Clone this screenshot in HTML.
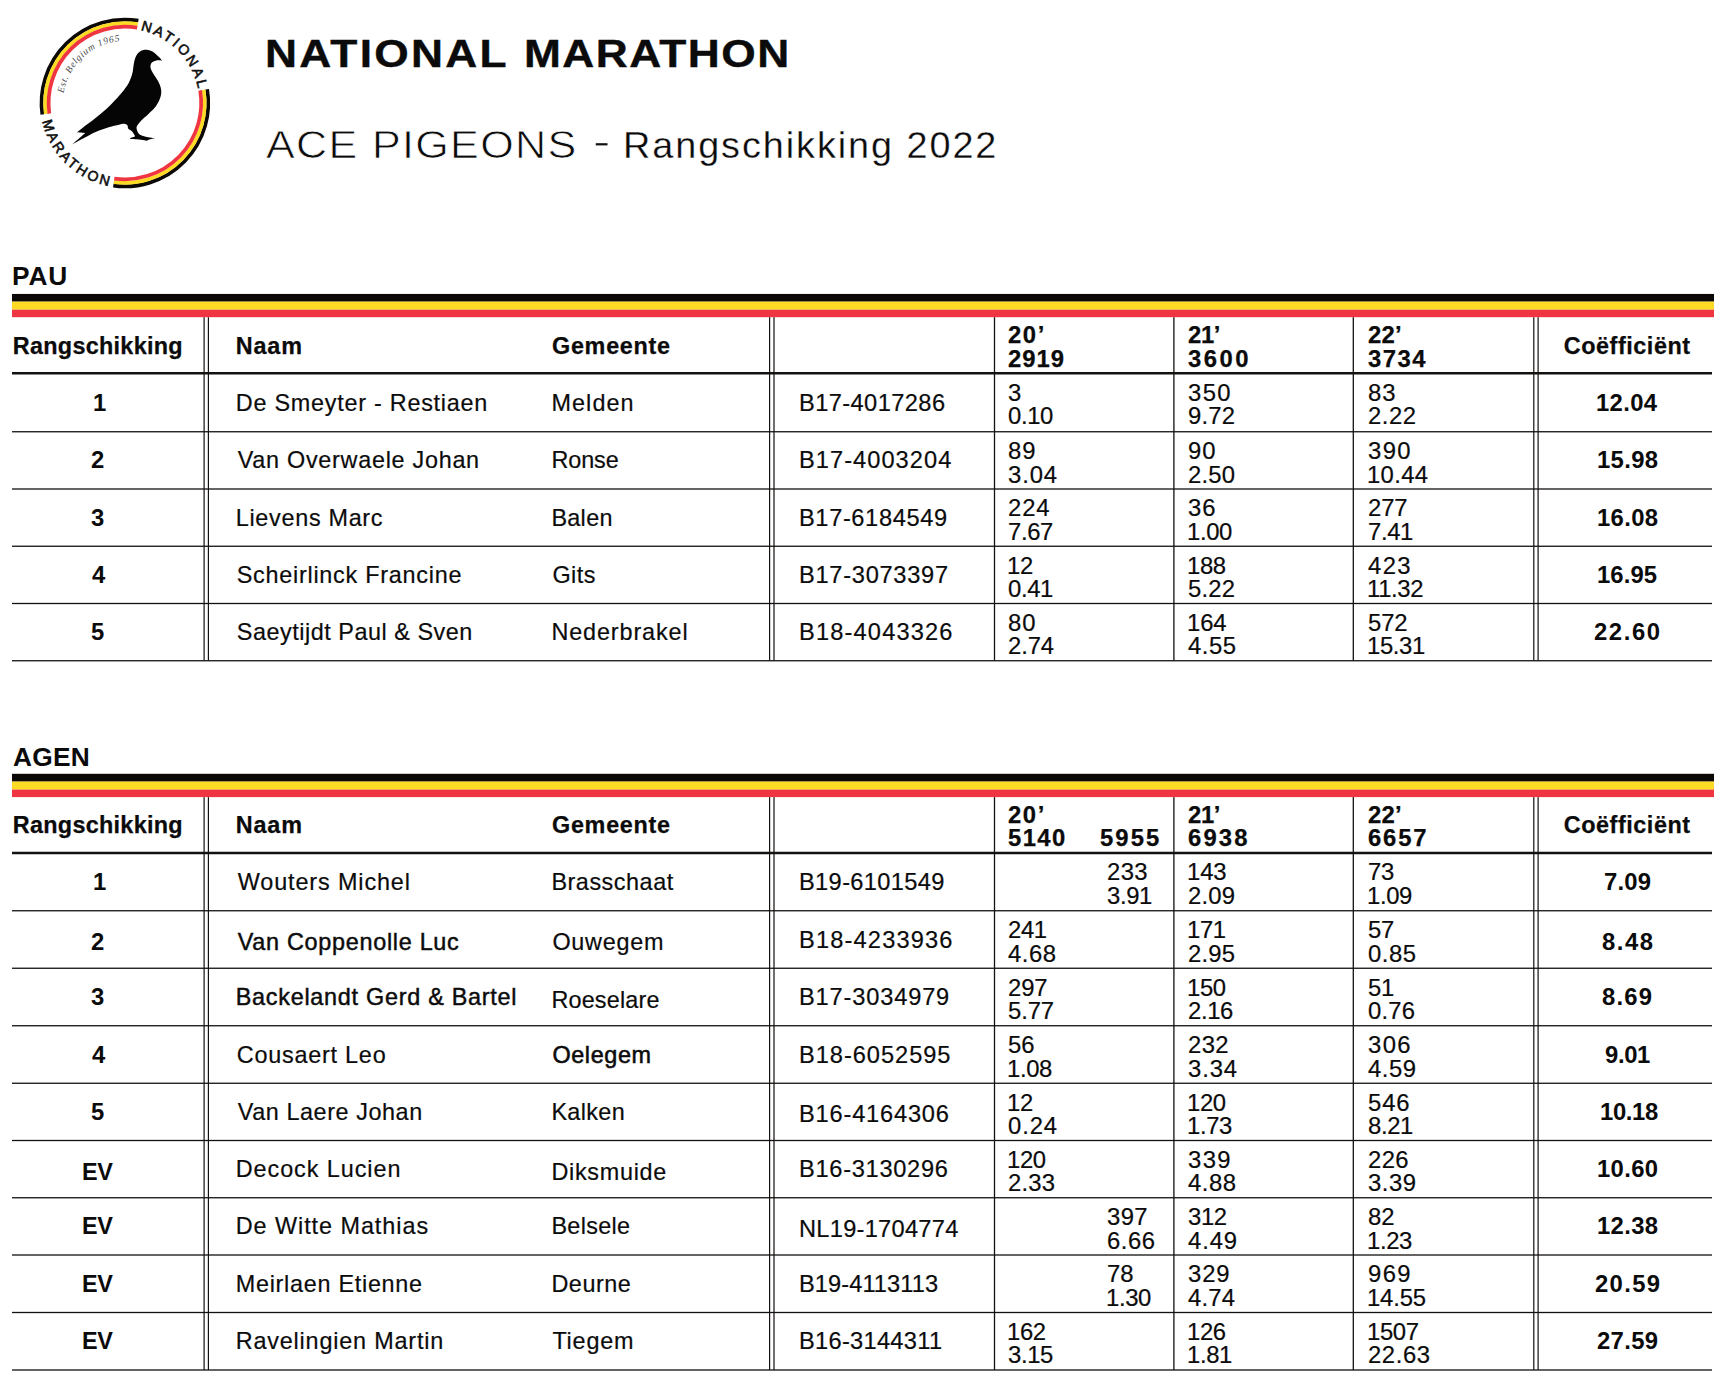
<!DOCTYPE html>
<html lang="nl"><head><meta charset="utf-8"><title>National Marathon - ACE PIGEONS - Rangschikking 2022</title>
<style>
html,body{margin:0;padding:0;background:#fff;}
body{width:1720px;height:1384px;position:relative;overflow:hidden;font-family:"Liberation Sans",sans-serif;color:#0b0b0b;}
#gfx{position:absolute;left:0;top:0;width:1720px;height:1384px;}
.t{position:absolute;white-space:pre;font-size:23.4px;line-height:30px;transform-origin:0 0;-webkit-text-stroke:0.2px #0b0b0b;}
.b{font-weight:700;-webkit-text-stroke:0;}
</style></head><body>
<svg id="gfx" width="1720" height="1384" viewBox="0 0 1720 1384">
<rect x="12.0" y="293.95" width="1702.0" height="7.7" fill="#0c0806"/>
<rect x="12.0" y="301.65" width="1702.0" height="8.05" fill="#fdda24"/>
<rect x="12.0" y="309.7" width="1702.0" height="7.5" fill="#ee3541"/>
<rect x="203.5" y="317.2" width="1.2" height="343.55" fill="#141210"/>
<rect x="207.8" y="317.2" width="1.2" height="343.55" fill="#141210"/>
<rect x="769" y="317.2" width="1.2" height="343.55" fill="#141210"/>
<rect x="773.4" y="317.2" width="1.2" height="343.55" fill="#141210"/>
<rect x="1533.2" y="317.2" width="1.2" height="343.55" fill="#141210"/>
<rect x="1537.5" y="317.2" width="1.2" height="343.55" fill="#141210"/>
<rect x="993.85" y="317.2" width="1.3" height="343.55" fill="#141210"/>
<rect x="1173.25" y="317.2" width="1.3" height="343.55" fill="#141210"/>
<rect x="1352.65" y="317.2" width="1.3" height="343.55" fill="#141210"/>
<rect x="12.0" y="372" width="1700.0" height="2.5" fill="#141210"/>
<rect x="12.0" y="431.1" width="1700.0" height="1.3" fill="#141210"/>
<rect x="12.0" y="488.35" width="1700.0" height="1.3" fill="#141210"/>
<rect x="12.0" y="545.6" width="1700.0" height="1.3" fill="#141210"/>
<rect x="12.0" y="602.85" width="1700.0" height="1.3" fill="#141210"/>
<rect x="12.0" y="660.1" width="1700.0" height="1.3" fill="#141210"/>
<rect x="12.0" y="773.8" width="1702.0" height="7.8" fill="#0c0806"/>
<rect x="12.0" y="781.6" width="1702.0" height="8" fill="#fdda24"/>
<rect x="12.0" y="789.6" width="1702.0" height="7.5" fill="#ee3541"/>
<rect x="203.5" y="797.1" width="1.2" height="572.9" fill="#141210"/>
<rect x="207.8" y="797.1" width="1.2" height="572.9" fill="#141210"/>
<rect x="769" y="797.1" width="1.2" height="572.9" fill="#141210"/>
<rect x="773.4" y="797.1" width="1.2" height="572.9" fill="#141210"/>
<rect x="1533.2" y="797.1" width="1.2" height="572.9" fill="#141210"/>
<rect x="1537.5" y="797.1" width="1.2" height="572.9" fill="#141210"/>
<rect x="993.85" y="797.1" width="1.3" height="572.9" fill="#141210"/>
<rect x="1173.25" y="797.1" width="1.3" height="572.9" fill="#141210"/>
<rect x="1352.65" y="797.1" width="1.3" height="572.9" fill="#141210"/>
<rect x="12.0" y="851.75" width="1700.0" height="2.5" fill="#141210"/>
<rect x="12.0" y="910.1" width="1700.0" height="1.3" fill="#141210"/>
<rect x="12.0" y="967.6" width="1700.0" height="1.3" fill="#141210"/>
<rect x="12.0" y="1025.1" width="1700.0" height="1.3" fill="#141210"/>
<rect x="12.0" y="1082.6" width="1700.0" height="1.3" fill="#141210"/>
<rect x="12.0" y="1139.85" width="1700.0" height="1.3" fill="#141210"/>
<rect x="12.0" y="1197.1" width="1700.0" height="1.3" fill="#141210"/>
<rect x="12.0" y="1254.35" width="1700.0" height="1.3" fill="#141210"/>
<rect x="12.0" y="1311.85" width="1700.0" height="1.3" fill="#141210"/>
<rect x="12.0" y="1369.35" width="1700.0" height="1.3" fill="#141210"/>
<path d="M42.31 114.61A83.4 83.4 0 0 1 138.38 20.7" fill="none" stroke="#0c0806" stroke-width="3.7"/>
<path d="M45.83 114.11A79.85 79.85 0 0 1 137.8 24.2" fill="none" stroke="#fdda24" stroke-width="3.7"/>
<path d="M49.34 113.62A76.3 76.3 0 0 1 137.23 27.7" fill="none" stroke="#ee3541" stroke-width="3.7"/>
<path d="M207.16 89.24A83.4 83.4 0 0 1 113.29 185.59" fill="none" stroke="#0c0806" stroke-width="3.7"/>
<path d="M203.65 89.82A79.85 79.85 0 0 1 113.79 182.07" fill="none" stroke="#fdda24" stroke-width="3.7"/>
<path d="M200.15 90.41A76.3 76.3 0 0 1 114.28 178.56" fill="none" stroke="#ee3541" stroke-width="3.7"/>
<defs><path id="pN" d="M131.39 28.78A74.5 74.5 0 0 1 198.27 115.94"/><path id="pM" d="M41.12 114.77A84.6 84.6 0 0 0 132.27 187.28"/><path id="pE" d="M62.9 103A62 62 0 0 1 130.3 41.24"/></defs>
<text font-family="Liberation Sans, sans-serif" font-size="14.2" font-weight="400" fill="#111" stroke="#111" stroke-width="0.6"><textPath href="#pN" startOffset="9.1" textLength="86.86" lengthAdjust="spacing">NATIONAL</textPath></text>
<text font-family="Liberation Sans, sans-serif" font-size="14.2" font-weight="400" fill="#111" stroke="#111" stroke-width="0.6"><textPath href="#pM" startOffset="6.5" textLength="97.9" lengthAdjust="spacing">MARATHON</textPath></text>
<text font-family="Liberation Serif, serif" font-size="9.6" font-style="italic" fill="#4a4a4a"><textPath href="#pE" startOffset="9.74" textLength="82.24" lengthAdjust="spacing">Est. Belgium 1965</textPath></text>
<path d="M162.12 60.82C162.12 60.82 160.8 59.01 159.98 58.12C159.16 57.23 158.32 56.51 157.2 55.5C156.07 54.49 154.74 52.98 153.22 52.08C151.7 51.18 149.71 50.42 148.06 50.09C146.4 49.76 144.74 49.79 143.29 50.09C141.83 50.4 140.46 51.02 139.31 51.92C138.16 52.82 137.17 54.11 136.37 55.5C135.58 56.89 135.02 58.55 134.54 60.27C134.07 61.99 133.82 63.91 133.51 65.83C133.21 67.75 133.11 69.87 132.72 71.79C132.32 73.71 131.79 75.5 131.13 77.35C130.46 79.21 129.7 81.16 128.74 82.92C127.79 84.68 126.75 86.07 125.4 87.93C124.05 89.78 122.49 91.86 120.64 94.05C118.78 96.23 116.66 98.55 114.28 101.04C111.89 103.53 109.24 106.34 106.33 108.99C103.41 111.64 99.97 114.39 96.79 116.94C93.61 119.48 90.57 121.68 87.25 124.25C83.94 126.82 76.92 132.35 76.92 132.35C76.92 132.35 85.03 133.15 85.03 133.15C85.03 133.15 71.52 144.91 71.52 144.91C71.52 144.91 80.66 139.83 84.87 137.6C89.08 135.37 92.82 133.28 96.79 131.56C100.77 129.84 105 128.42 108.71 127.27C112.42 126.12 116.46 125.24 119.05 124.64C121.63 124.05 122.82 123.6 124.21 123.69C125.6 123.78 126.7 124.34 127.39 125.2C128.08 126.06 127.55 127.82 128.34 128.86C129.14 129.89 131.22 130.51 132.16 131.4C133.1 132.29 133.55 133.32 133.99 134.18C134.42 135.04 135.48 135.89 134.78 136.57C134.08 137.24 129.78 138.24 129.78 138.24C129.78 138.24 130.17 138.92 131.36 139.11C132.56 139.3 134.74 139.15 136.93 139.35C139.11 139.55 142.82 140.04 144.48 140.3C146.13 140.57 146.86 140.94 146.86 140.94C146.86 140.94 147.53 140.18 148.85 139.75C150.17 139.31 154.81 138.32 154.81 138.32C154.81 138.32 150.64 137.81 148.45 137.36C146.27 136.91 143.39 136.34 141.7 135.61C140 134.88 139.11 134.09 138.28 132.99C137.44 131.89 136.89 130.21 136.69 129.02C136.49 127.82 136.32 127.27 137.09 125.84C137.86 124.41 139.41 122.42 141.3 120.43C143.19 118.45 146.2 116.06 148.45 113.92C150.7 111.77 153.02 109.81 154.81 107.56C156.6 105.3 158.12 102.66 159.18 100.4C160.24 98.15 160.9 96.16 161.17 94.05C161.43 91.93 161.28 89.81 160.77 87.69C160.27 85.57 159.25 83.45 158.15 81.33C157.05 79.21 155.3 76.83 154.18 74.97C153.05 73.12 152.02 71.66 151.39 70.2C150.77 68.74 150.36 67.51 150.44 66.23C150.52 64.94 151.01 63.42 151.87 62.49C152.73 61.57 154.32 61.02 155.61 60.66C156.89 60.31 158.49 60.32 159.58 60.35C160.67 60.37 162.12 60.82 162.12 60.82Z" fill="#050505"/>
<rect x="595.75" y="143.2" width="11.75" height="2.2" fill="#111"/>
</svg>
<div class="t b" style="left:12.75px;top:330.64px;letter-spacing:0.29px;-webkit-text-stroke:0.25px #0b0b0b;">Rangschikking</div>
<div class="t b" style="left:235.75px;top:330.64px;letter-spacing:0.83px;-webkit-text-stroke:0.25px #0b0b0b;">Naam</div>
<div class="t b" style="left:552px;top:330.64px;letter-spacing:0.71px;-webkit-text-stroke:0.25px #0b0b0b;">Gemeente</div>
<div class="t b" style="left:1563.75px;top:330.64px;letter-spacing:0.55px;-webkit-text-stroke:0.25px #0b0b0b;">Coëfficiënt</div>
<div class="t b" style="left:1008.23px;top:320.14px;letter-spacing:1.57px;transform:scaleX(1.02);-webkit-text-stroke:0.25px #0b0b0b;">20’</div>
<div class="t b" style="left:1008.23px;top:343.54px;letter-spacing:0.98px;transform:scaleX(1.02);-webkit-text-stroke:0.25px #0b0b0b;">2919</div>
<div class="t b" style="left:1188.23px;top:320.14px;letter-spacing:-0.35px;transform:scaleX(1.02);-webkit-text-stroke:0.25px #0b0b0b;">21’</div>
<div class="t b" style="left:1188.23px;top:343.54px;letter-spacing:2.45px;transform:scaleX(1.02);-webkit-text-stroke:0.25px #0b0b0b;">3600</div>
<div class="t b" style="left:1368.23px;top:320.14px;letter-spacing:0.25px;transform:scaleX(1.02);-webkit-text-stroke:0.25px #0b0b0b;">22’</div>
<div class="t b" style="left:1368.23px;top:343.54px;letter-spacing:1.46px;transform:scaleX(1.02);-webkit-text-stroke:0.25px #0b0b0b;">3734</div>
<div class="t b" style="left:93.48px;top:387.59px;letter-spacing:0px;transform:scaleX(1.02);">1</div>
<div class="t" style="left:235.75px;top:387.59px;letter-spacing:0.75px;">De Smeyter - Restiaen</div>
<div class="t" style="left:551.4px;top:387.59px;letter-spacing:1.1px;">Melden</div>
<div class="t" style="left:798.98px;top:387.59px;letter-spacing:0.41px;transform:scaleX(1.01);">B17-4017286</div>
<div class="t" style="left:1008.23px;top:377.64px;letter-spacing:0px;transform:scaleX(1.02);">3</div>
<div class="t" style="left:1008.23px;top:401.14px;letter-spacing:-0.35px;transform:scaleX(1.02);">0.10</div>
<div class="t" style="left:1188.23px;top:377.64px;letter-spacing:1.35px;transform:scaleX(1.02);">350</div>
<div class="t" style="left:1188.23px;top:401.14px;letter-spacing:0.21px;transform:scaleX(1.02);">9.72</div>
<div class="t" style="left:1368.23px;top:377.64px;letter-spacing:1px;transform:scaleX(1.02);">83</div>
<div class="t" style="left:1368.23px;top:401.14px;letter-spacing:0.54px;transform:scaleX(1.02);">2.22</div>
<div class="t b" style="left:1596.23px;top:387.59px;letter-spacing:0.33px;transform:scaleX(1.02);">12.04</div>
<div class="t b" style="left:91.48px;top:445.47px;letter-spacing:0px;transform:scaleX(1.02);">2</div>
<div class="t" style="left:237.75px;top:445.47px;letter-spacing:0.72px;">Van Overwaele Johan</div>
<div class="t" style="left:551.4px;top:445.47px;letter-spacing:-0.06px;">Ronse</div>
<div class="t" style="left:798.98px;top:445.47px;letter-spacing:1.03px;transform:scaleX(1.01);">B17-4003204</div>
<div class="t" style="left:1008.23px;top:436.14px;letter-spacing:1px;transform:scaleX(1.02);">89</div>
<div class="t" style="left:1008.23px;top:459.64px;letter-spacing:0.86px;transform:scaleX(1.02);">3.04</div>
<div class="t" style="left:1188.23px;top:436.14px;letter-spacing:1px;transform:scaleX(1.02);">90</div>
<div class="t" style="left:1188.23px;top:459.64px;letter-spacing:0.2px;transform:scaleX(1.02);">2.50</div>
<div class="t" style="left:1368.23px;top:436.14px;letter-spacing:1.35px;transform:scaleX(1.02);">390</div>
<div class="t" style="left:1367.21px;top:459.64px;letter-spacing:0.34px;transform:scaleX(1.02);">10.44</div>
<div class="t b" style="left:1596.73px;top:445.47px;letter-spacing:0.33px;transform:scaleX(1.02);">15.98</div>
<div class="t b" style="left:90.98px;top:502.72px;letter-spacing:0px;transform:scaleX(1.02);">3</div>
<div class="t" style="left:235.75px;top:502.72px;letter-spacing:0.7px;">Lievens Marc</div>
<div class="t" style="left:551.4px;top:502.72px;letter-spacing:0.31px;">Balen</div>
<div class="t" style="left:798.98px;top:502.72px;letter-spacing:0.61px;transform:scaleX(1.01);">B17-6184549</div>
<div class="t" style="left:1008.23px;top:493.39px;letter-spacing:0.86px;transform:scaleX(1.02);">224</div>
<div class="t" style="left:1008.23px;top:516.89px;letter-spacing:-0.35px;transform:scaleX(1.02);">7.67</div>
<div class="t" style="left:1188.23px;top:493.39px;letter-spacing:1px;transform:scaleX(1.02);">36</div>
<div class="t" style="left:1187.21px;top:516.89px;letter-spacing:-0.35px;transform:scaleX(1.02);">1.00</div>
<div class="t" style="left:1368.23px;top:493.39px;letter-spacing:-0.12px;transform:scaleX(1.02);">277</div>
<div class="t" style="left:1368.23px;top:516.89px;letter-spacing:-0.35px;transform:scaleX(1.02);">7.41</div>
<div class="t b" style="left:1596.73px;top:502.72px;letter-spacing:0.33px;transform:scaleX(1.02);">16.08</div>
<div class="t b" style="left:91.5px;top:559.97px;letter-spacing:0px;transform:scaleX(1.02);">4</div>
<div class="t" style="left:236.75px;top:559.97px;letter-spacing:0.74px;">Scheirlinck Francine</div>
<div class="t" style="left:552.4px;top:559.97px;letter-spacing:0.5px;">Gits</div>
<div class="t" style="left:798.98px;top:559.97px;letter-spacing:0.71px;transform:scaleX(1.01);">B17-3073397</div>
<div class="t" style="left:1007.21px;top:550.64px;letter-spacing:-0.35px;transform:scaleX(1.02);">12</div>
<div class="t" style="left:1008.23px;top:574.14px;letter-spacing:-0.35px;transform:scaleX(1.02);">0.41</div>
<div class="t" style="left:1187.21px;top:550.64px;letter-spacing:-0.35px;transform:scaleX(1.02);">188</div>
<div class="t" style="left:1188.23px;top:574.14px;letter-spacing:0.21px;transform:scaleX(1.02);">5.22</div>
<div class="t" style="left:1368.23px;top:550.64px;letter-spacing:1.35px;transform:scaleX(1.02);">423</div>
<div class="t" style="left:1367.21px;top:574.14px;letter-spacing:-0.35px;transform:scaleX(1.02);">11.32</div>
<div class="t b" style="left:1597.23px;top:559.97px;letter-spacing:0.09px;transform:scaleX(1.02);">16.95</div>
<div class="t b" style="left:91.48px;top:617.22px;letter-spacing:0px;transform:scaleX(1.02);">5</div>
<div class="t" style="left:236.75px;top:617.22px;letter-spacing:0.53px;">Saeytijdt Paul &amp; Sven</div>
<div class="t" style="left:551.4px;top:617.22px;letter-spacing:0.88px;">Nederbrakel</div>
<div class="t" style="left:798.98px;top:617.22px;letter-spacing:1.15px;transform:scaleX(1.01);">B18-4043326</div>
<div class="t" style="left:1008.23px;top:607.89px;letter-spacing:1px;transform:scaleX(1.02);">80</div>
<div class="t" style="left:1008.23px;top:631.39px;letter-spacing:-0.12px;transform:scaleX(1.02);">2.74</div>
<div class="t" style="left:1187.21px;top:607.89px;letter-spacing:-0.11px;transform:scaleX(1.02);">164</div>
<div class="t" style="left:1188.23px;top:631.39px;letter-spacing:0.53px;transform:scaleX(1.02);">4.55</div>
<div class="t" style="left:1368.23px;top:607.89px;letter-spacing:-0.12px;transform:scaleX(1.02);">572</div>
<div class="t" style="left:1367.21px;top:631.39px;letter-spacing:-0.35px;transform:scaleX(1.02);">15.31</div>
<div class="t b" style="left:1594.23px;top:617.22px;letter-spacing:1.56px;transform:scaleX(1.02);">22.60</div>
<div class="t b" style="left:12.75px;top:810.39px;letter-spacing:0.29px;-webkit-text-stroke:0.25px #0b0b0b;">Rangschikking</div>
<div class="t b" style="left:235.75px;top:810.39px;letter-spacing:0.83px;-webkit-text-stroke:0.25px #0b0b0b;">Naam</div>
<div class="t b" style="left:552px;top:810.39px;letter-spacing:0.71px;-webkit-text-stroke:0.25px #0b0b0b;">Gemeente</div>
<div class="t b" style="left:1563.75px;top:810.39px;letter-spacing:0.55px;-webkit-text-stroke:0.25px #0b0b0b;">Coëfficiënt</div>
<div class="t b" style="left:1008.23px;top:799.89px;letter-spacing:1.57px;transform:scaleX(1.02);-webkit-text-stroke:0.25px #0b0b0b;">20’</div>
<div class="t b" style="left:1008.23px;top:823.29px;letter-spacing:1.39px;transform:scaleX(1.02);-webkit-text-stroke:0.25px #0b0b0b;">5140</div>
<div class="t b" style="left:1188.23px;top:799.89px;letter-spacing:-0.35px;transform:scaleX(1.02);-webkit-text-stroke:0.25px #0b0b0b;">21’</div>
<div class="t b" style="left:1188.23px;top:823.29px;letter-spacing:2.12px;transform:scaleX(1.02);-webkit-text-stroke:0.25px #0b0b0b;">6938</div>
<div class="t b" style="left:1368.23px;top:799.89px;letter-spacing:0.25px;transform:scaleX(1.02);-webkit-text-stroke:0.25px #0b0b0b;">22’</div>
<div class="t b" style="left:1368.23px;top:823.29px;letter-spacing:1.8px;transform:scaleX(1.02);-webkit-text-stroke:0.25px #0b0b0b;">6657</div>
<div class="t b" style="left:1099.98px;top:823.29px;letter-spacing:2.04px;transform:scaleX(1.02);-webkit-text-stroke:0.25px #0b0b0b;">5955</div>
<div class="t b" style="left:93.48px;top:866.97px;letter-spacing:0px;transform:scaleX(1.02);">1</div>
<div class="t" style="left:237.75px;top:866.97px;letter-spacing:0.88px;">Wouters Michel</div>
<div class="t" style="left:551.4px;top:866.97px;letter-spacing:0.53px;">Brasschaat</div>
<div class="t" style="left:798.98px;top:866.97px;letter-spacing:0.36px;transform:scaleX(1.01);">B19-6101549</div>
<div class="t" style="left:1107.48px;top:857.39px;letter-spacing:0.37px;transform:scaleX(1.02);">233</div>
<div class="t" style="left:1107.48px;top:880.89px;letter-spacing:-0.35px;transform:scaleX(1.02);">3.91</div>
<div class="t" style="left:1187.21px;top:857.39px;letter-spacing:-0.11px;transform:scaleX(1.02);">143</div>
<div class="t" style="left:1188.23px;top:880.89px;letter-spacing:0.2px;transform:scaleX(1.02);">2.09</div>
<div class="t" style="left:1368.23px;top:857.39px;letter-spacing:-0.35px;transform:scaleX(1.02);">73</div>
<div class="t" style="left:1367.21px;top:880.89px;letter-spacing:-0.35px;transform:scaleX(1.02);">1.09</div>
<div class="t b" style="left:1603.73px;top:866.97px;letter-spacing:0.2px;transform:scaleX(1.02);">7.09</div>
<div class="t b" style="left:91.48px;top:927.09px;letter-spacing:0px;transform:scaleX(1.02);">2</div>
<div class="t" style="left:237.75px;top:927.09px;letter-spacing:0.71px;-webkit-text-stroke:0.45px #0b0b0b;">Van Coppenolle Luc</div>
<div class="t" style="left:552.4px;top:927.09px;letter-spacing:0.75px;">Ouwegem</div>
<div class="t" style="left:798.98px;top:924.59px;letter-spacing:1.15px;transform:scaleX(1.01);">B18-4233936</div>
<div class="t" style="left:1008.23px;top:915.14px;letter-spacing:-0.35px;transform:scaleX(1.02);">241</div>
<div class="t" style="left:1008.23px;top:938.64px;letter-spacing:0.53px;transform:scaleX(1.02);">4.68</div>
<div class="t" style="left:1187.21px;top:915.14px;letter-spacing:-0.35px;transform:scaleX(1.02);">171</div>
<div class="t" style="left:1188.23px;top:938.64px;letter-spacing:0.2px;transform:scaleX(1.02);">2.95</div>
<div class="t" style="left:1368.23px;top:915.14px;letter-spacing:-0.35px;transform:scaleX(1.02);">57</div>
<div class="t" style="left:1368.23px;top:938.64px;letter-spacing:0.53px;transform:scaleX(1.02);">0.85</div>
<div class="t b" style="left:1601.73px;top:927.09px;letter-spacing:1.51px;transform:scaleX(1.02);">8.48</div>
<div class="t b" style="left:90.98px;top:982.09px;letter-spacing:0px;transform:scaleX(1.02);">3</div>
<div class="t" style="left:235.75px;top:982.09px;letter-spacing:0.73px;-webkit-text-stroke:0.45px #0b0b0b;">Backelandt Gerd &amp; Bartel</div>
<div class="t" style="left:551.4px;top:984.59px;letter-spacing:0.19px;">Roeselare</div>
<div class="t" style="left:798.98px;top:982.09px;letter-spacing:0.83px;transform:scaleX(1.01);">B17-3034979</div>
<div class="t" style="left:1008.23px;top:972.64px;letter-spacing:-0.12px;transform:scaleX(1.02);">297</div>
<div class="t" style="left:1008.23px;top:996.14px;letter-spacing:-0.12px;transform:scaleX(1.02);">5.77</div>
<div class="t" style="left:1187.21px;top:972.64px;letter-spacing:-0.35px;transform:scaleX(1.02);">150</div>
<div class="t" style="left:1188.23px;top:996.14px;letter-spacing:-0.35px;transform:scaleX(1.02);">2.16</div>
<div class="t" style="left:1368.23px;top:972.64px;letter-spacing:-0.35px;transform:scaleX(1.02);">51</div>
<div class="t" style="left:1368.23px;top:996.14px;letter-spacing:0.2px;transform:scaleX(1.02);">0.76</div>
<div class="t b" style="left:1602.23px;top:982.09px;letter-spacing:1.18px;transform:scaleX(1.02);">8.69</div>
<div class="t b" style="left:91.5px;top:1039.59px;letter-spacing:0px;transform:scaleX(1.02);">4</div>
<div class="t" style="left:236.75px;top:1039.59px;letter-spacing:0.77px;">Cousaert Leo</div>
<div class="t" style="left:552.4px;top:1039.59px;letter-spacing:0.62px;-webkit-text-stroke:0.55px #0b0b0b;">Oelegem</div>
<div class="t" style="left:798.98px;top:1039.59px;letter-spacing:0.95px;transform:scaleX(1.01);">B18-6052595</div>
<div class="t" style="left:1008.23px;top:1030.14px;letter-spacing:0.02px;transform:scaleX(1.02);">56</div>
<div class="t" style="left:1007.21px;top:1053.64px;letter-spacing:-0.35px;transform:scaleX(1.02);">1.08</div>
<div class="t" style="left:1188.23px;top:1030.14px;letter-spacing:0.37px;transform:scaleX(1.02);">232</div>
<div class="t" style="left:1188.23px;top:1053.64px;letter-spacing:0.86px;transform:scaleX(1.02);">3.34</div>
<div class="t" style="left:1368.23px;top:1030.14px;letter-spacing:1.35px;transform:scaleX(1.02);">306</div>
<div class="t" style="left:1368.23px;top:1053.64px;letter-spacing:0.53px;transform:scaleX(1.02);">4.59</div>
<div class="t b" style="left:1604.73px;top:1039.59px;letter-spacing:-0.35px;transform:scaleX(1.02);">9.01</div>
<div class="t b" style="left:91.48px;top:1096.97px;letter-spacing:0px;transform:scaleX(1.02);">5</div>
<div class="t" style="left:237.75px;top:1096.97px;letter-spacing:0.57px;">Van Laere Johan</div>
<div class="t" style="left:551.4px;top:1096.97px;letter-spacing:0.35px;">Kalken</div>
<div class="t" style="left:798.98px;top:1099.47px;letter-spacing:0.8px;transform:scaleX(1.01);">B16-4164306</div>
<div class="t" style="left:1007.21px;top:1087.64px;letter-spacing:-0.35px;transform:scaleX(1.02);">12</div>
<div class="t" style="left:1008.23px;top:1111.14px;letter-spacing:0.86px;transform:scaleX(1.02);">0.24</div>
<div class="t" style="left:1187.21px;top:1087.64px;letter-spacing:-0.35px;transform:scaleX(1.02);">120</div>
<div class="t" style="left:1187.21px;top:1111.14px;letter-spacing:-0.35px;transform:scaleX(1.02);">1.73</div>
<div class="t" style="left:1368.23px;top:1087.64px;letter-spacing:0.86px;transform:scaleX(1.02);">546</div>
<div class="t" style="left:1368.23px;top:1111.14px;letter-spacing:-0.35px;transform:scaleX(1.02);">8.21</div>
<div class="t b" style="left:1599.73px;top:1096.97px;letter-spacing:-0.35px;transform:scaleX(1.02);">10.18</div>
<div class="t b" style="left:82px;top:1156.72px;letter-spacing:-0.35px;">EV</div>
<div class="t" style="left:235.75px;top:1154.22px;letter-spacing:0.94px;">Decock Lucien</div>
<div class="t" style="left:551.4px;top:1156.72px;letter-spacing:0.72px;">Diksmuide</div>
<div class="t" style="left:798.98px;top:1154.22px;letter-spacing:0.7px;transform:scaleX(1.01);">B16-3130296</div>
<div class="t" style="left:1007.21px;top:1144.89px;letter-spacing:-0.35px;transform:scaleX(1.02);">120</div>
<div class="t" style="left:1008.23px;top:1168.39px;letter-spacing:0.2px;transform:scaleX(1.02);">2.33</div>
<div class="t" style="left:1188.23px;top:1144.89px;letter-spacing:1.35px;transform:scaleX(1.02);">339</div>
<div class="t" style="left:1188.23px;top:1168.39px;letter-spacing:0.53px;transform:scaleX(1.02);">4.88</div>
<div class="t" style="left:1368.23px;top:1144.89px;letter-spacing:0.37px;transform:scaleX(1.02);">226</div>
<div class="t" style="left:1368.23px;top:1168.39px;letter-spacing:0.53px;transform:scaleX(1.02);">3.39</div>
<div class="t b" style="left:1596.73px;top:1154.22px;letter-spacing:0.33px;transform:scaleX(1.02);">10.60</div>
<div class="t b" style="left:82px;top:1211.47px;letter-spacing:-0.35px;">EV</div>
<div class="t" style="left:235.75px;top:1211.47px;letter-spacing:0.95px;">De Witte Mathias</div>
<div class="t" style="left:551.4px;top:1211.47px;letter-spacing:0.33px;">Belsele</div>
<div class="t" style="left:798.98px;top:1213.97px;letter-spacing:0.27px;transform:scaleX(1.01);">NL19-1704774</div>
<div class="t" style="left:1107.48px;top:1202.14px;letter-spacing:0.37px;transform:scaleX(1.02);">397</div>
<div class="t" style="left:1107.48px;top:1225.64px;letter-spacing:0.53px;transform:scaleX(1.02);">6.66</div>
<div class="t" style="left:1188.23px;top:1202.14px;letter-spacing:-0.35px;transform:scaleX(1.02);">312</div>
<div class="t" style="left:1188.23px;top:1225.64px;letter-spacing:0.86px;transform:scaleX(1.02);">4.49</div>
<div class="t" style="left:1368.23px;top:1202.14px;letter-spacing:0.02px;transform:scaleX(1.02);">82</div>
<div class="t" style="left:1367.21px;top:1225.64px;letter-spacing:-0.35px;transform:scaleX(1.02);">1.23</div>
<div class="t b" style="left:1596.73px;top:1211.47px;letter-spacing:0.33px;transform:scaleX(1.02);">12.38</div>
<div class="t b" style="left:82px;top:1268.84px;letter-spacing:-0.35px;">EV</div>
<div class="t" style="left:235.75px;top:1268.84px;letter-spacing:0.72px;">Meirlaen Etienne</div>
<div class="t" style="left:551.4px;top:1268.84px;letter-spacing:0.55px;">Deurne</div>
<div class="t" style="left:798.98px;top:1268.84px;letter-spacing:0.07px;transform:scaleX(1.01);">B19-4113113</div>
<div class="t" style="left:1107.48px;top:1259.39px;letter-spacing:0.02px;transform:scaleX(1.02);">78</div>
<div class="t" style="left:1106.46px;top:1282.89px;letter-spacing:-0.35px;transform:scaleX(1.02);">1.30</div>
<div class="t" style="left:1188.23px;top:1259.39px;letter-spacing:0.86px;transform:scaleX(1.02);">329</div>
<div class="t" style="left:1188.23px;top:1282.89px;letter-spacing:0.2px;transform:scaleX(1.02);">4.74</div>
<div class="t" style="left:1368.23px;top:1259.39px;letter-spacing:1.35px;transform:scaleX(1.02);">969</div>
<div class="t" style="left:1367.21px;top:1282.89px;letter-spacing:-0.15px;transform:scaleX(1.02);">14.55</div>
<div class="t b" style="left:1594.73px;top:1268.84px;letter-spacing:1.31px;transform:scaleX(1.02);">20.59</div>
<div class="t b" style="left:82px;top:1326.34px;letter-spacing:-0.35px;">EV</div>
<div class="t" style="left:235.75px;top:1326.34px;letter-spacing:0.81px;">Ravelingien Martin</div>
<div class="t" style="left:552.4px;top:1326.34px;letter-spacing:0.8px;">Tiegem</div>
<div class="t" style="left:798.98px;top:1326.34px;letter-spacing:0.29px;transform:scaleX(1.01);">B16-3144311</div>
<div class="t" style="left:1007.21px;top:1316.89px;letter-spacing:-0.35px;transform:scaleX(1.02);">162</div>
<div class="t" style="left:1008.23px;top:1340.39px;letter-spacing:-0.35px;transform:scaleX(1.02);">3.15</div>
<div class="t" style="left:1187.21px;top:1316.89px;letter-spacing:-0.35px;transform:scaleX(1.02);">126</div>
<div class="t" style="left:1187.21px;top:1340.39px;letter-spacing:-0.35px;transform:scaleX(1.02);">1.81</div>
<div class="t" style="left:1367.21px;top:1316.89px;letter-spacing:-0.35px;transform:scaleX(1.02);">1507</div>
<div class="t" style="left:1368.23px;top:1340.39px;letter-spacing:0.58px;transform:scaleX(1.02);">22.63</div>
<div class="t b" style="left:1596.73px;top:1326.34px;letter-spacing:0.33px;transform:scaleX(1.02);">27.59</div>
<div class="t b" style="left:12.1px;top:259.49px;letter-spacing:0.82px;font-size:26.3px;line-height:34px;">PAU</div>
<div class="t b" style="left:13px;top:739.59px;letter-spacing:0.25px;font-size:26.3px;line-height:34px;">AGEN</div>
<div class="t b" style="left:264.61px;top:27.92px;letter-spacing:2.04px;font-size:39.2px;line-height:51px;transform:scaleX(1.13);-webkit-text-stroke:0.4px #0b0b0b;">NATIONAL</div>
<div class="t b" style="left:524.36px;top:27.92px;letter-spacing:1.28px;font-size:39.2px;line-height:51px;transform:scaleX(1.13);-webkit-text-stroke:0.4px #0b0b0b;">MARATHON</div>
<div class="t" style="left:266.3px;top:119.17px;letter-spacing:1.2px;font-size:39.2px;line-height:51px;transform:scaleX(1.1);-webkit-text-stroke:0.75px #fff;">ACE PIGEONS</div>
<div class="t" style="left:623px;top:120.65px;letter-spacing:1.94px;font-size:37.8px;line-height:49px;-webkit-text-stroke:0.3px #fff;">Rangschikking 2022</div>
</body></html>
